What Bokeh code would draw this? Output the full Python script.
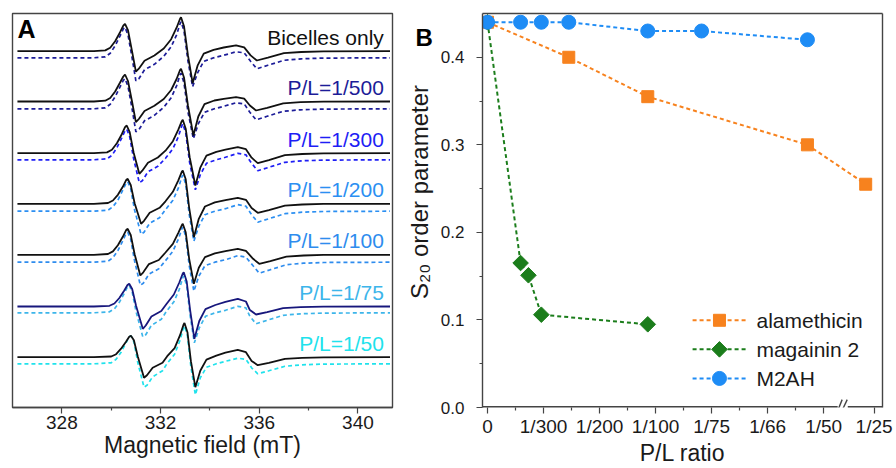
import numpy as np
from bokeh.plotting import figure
from bokeh.models import Range1d, FixedTicker, Label, PrintfTickFormatter, LinearAxis
from bokeh.layouts import row
from bokeh.core.properties import value
from bokeh.embed import file_html
from bokeh.resources import INLINE

FONT = "Liberation Sans"

# ---------------- Panel A data: EPR spectra (field in mT, amplitude a.u.) ----------------
sample_labels = ["Bicelles only", "P/L=1/500", "P/L=1/300", "P/L=1/200",
                 "P/L=1/100", "P/L=1/75", "P/L=1/50"]

field_bicelles = [326.2, 329.3, 329.76, 329.96, 330.16, 330.36, 330.49, 330.56, 330.68, 330.84, 331.00, 331.12,
                  331.35, 331.75, 332.13, 332.43, 332.65, 332.79, 332.83, 332.95, 333.11, 333.30, 333.50, 333.75,
                  334.15, 334.56, 335.06, 335.39, 335.65, 335.90, 336.35, 337.00, 337.70, 338.60, 341.3]
exp_bicelles = [0, 0, 0.8, 3.5, 10, 19, 25.5, 27.4, 21, 0.5, -20.5, -17.5, -9.5, -4.3, 2.7, 12, 23.5, 32.5, 34, 25,
                -4, -32, -14.5, -2.5, 1.4, 3.7, 5.8, 3.8, -4.2, -9.3, -6.5, -2, -0.8, -0.1, 0]
sim_bicelles = [0, 0, 1, 4.5, 12, 22, 29, 30.5, 23, 1, -23, -21, -12, -6.5, 1.5, 11, 23, 34, 36, 27,
                -3, -29, -15, -3.5, 0, 2.5, 6, 5, -3.5, -11, -7.5, -2.5, -1, -0.3, 0]

field_500 = [326.2, 329.3, 329.76, 329.96, 330.16, 330.36, 330.49, 330.56, 330.68, 330.84, 331.00, 331.12,
             331.35, 331.75, 332.13, 332.43, 332.65, 332.79, 332.83, 332.95, 333.11, 333.33, 333.53, 333.78,
             334.18, 334.56, 335.06, 335.39, 335.62, 335.87, 336.32, 336.97, 337.67, 338.60, 341.3]
exp_500 = [0, 0, 0.8, 3.5, 10, 19, 25, 27, 20.5, 0.5, -20.7, -17.5, -9.5, -4.3, 2.5, 11.5, 22.5, 31.5, 32.7, 24,
           -4, -34, -15, -2.7, 1, 2.6, 4.3, 2.8, -4, -9, -6.3, -1.8, -0.7, -0.1, 0]
sim_500 = [0, 0, 1, 4.5, 12, 22, 28.5, 30, 22.5, 1, -23, -21, -12, -6.5, 1.5, 11, 23, 34, 35.5, 26,
           -3, -30, -15, -3.5, 0, 2.5, 6, 5, -3.5, -11, -7.5, -2.5, -1, -0.3, 0]

field_300 = [326.2, 329.3, 329.83, 330.03, 330.23, 330.43, 330.56, 330.63, 330.75, 330.91, 331.14, 331.26,
             331.49, 331.89, 332.20, 332.50, 332.72, 332.86, 332.90, 333.02, 333.18, 333.41, 333.61, 333.86,
             334.26, 334.63, 335.13, 335.46, 335.69, 335.94, 336.39, 337.04, 337.74, 338.60, 341.3]
exp_300 = [0, 0, 0.8, 3.5, 10, 19, 26, 27.7, 21, 0.5, -20.6, -17.5, -9.5, -4.3, 2.5, 12, 23.5, 32, 33.4, 24.5,
           -4, -32.3, -14.5, -2.5, 1.4, 3.6, 6, 4, -4.5, -10, -7, -2, -0.8, -0.1, 0]
sim_300 = [0, 0, 1, 4.5, 12, 22, 29, 30.5, 23, 1, -23, -21, -12, -6.5, 1.5, 11, 23, 34, 36, 27,
           -3, -30, -15, -3.5, 0, 2.5, 6.5, 5, -3.5, -11, -7.5, -2.5, -1, -0.3, 0]

field_200 = [326.2, 329.3, 329.87, 330.07, 330.27, 330.47, 330.60, 330.67, 330.79, 330.95, 331.21, 331.33,
             331.56, 331.96, 332.20, 332.50, 332.72, 332.86, 332.90, 333.02, 333.16, 333.35, 333.55, 333.80,
             334.20, 334.63, 335.13, 335.46, 335.69, 335.94, 336.39, 337.04, 337.74, 338.60, 341.3]
exp_200 = [0, 0, 0.8, 3.3, 9, 17, 23.5, 25, 19, 0.5, -20, -17, -9, -4, 2.5, 12, 23.5, 32, 33.3, 24.5,
           -4, -33.4, -15, -2.7, 1.4, 3.6, 6, 4, -4.2, -9, -6.3, -1.8, -0.7, -0.1, 0]
sim_200 = [0, 0, 1, 4.5, 11, 21, 28, 29.5, 22.5, 1, -23, -21, -12, -6.5, 1.5, 11, 23, 34, 36, 27,
           -3, -30, -15, -3.5, 0, 2.5, 6.5, 5, -3.5, -11, -7.5, -2.5, -1, -0.3, 0]

field_100 = [326.2, 329.3, 329.87, 330.07, 330.27, 330.47, 330.60, 330.67, 330.79, 330.95, 331.18, 331.30,
             331.53, 331.93, 332.20, 332.50, 332.72, 332.86, 332.90, 333.02, 333.16, 333.35, 333.55, 333.80,
             334.20, 334.63, 335.13, 335.46, 335.75, 336.00, 336.45, 337.10, 337.80, 338.60, 341.3]
exp_100 = [0, 0, 0.8, 3.4, 9.5, 18, 24.5, 26, 20, 0.5, -20.7, -17.5, -9.3, -5.2, 2.3, 11, 22, 29.5, 31, 22.5,
           -4, -29, -13, -2.3, 1.4, 3.6, 6, 4, -4, -9, -6.3, -1.8, -0.7, -0.1, 0]
sim_100 = [0, 0, 1, 4.5, 11.5, 21.5, 28.5, 30, 23, 1, -23, -21, -12, -6.5, 1.5, 11, 23, 33, 35, 26,
           -3, -29, -14, -3.5, 0, 2.5, 6.5, 5, -3.5, -11, -7.5, -2.5, -1, -0.3, 0]

field_75 = [326.2, 329.3, 329.93, 330.13, 330.33, 330.53, 330.66, 330.73, 330.85, 331.01, 331.28, 331.40,
            331.63, 332.03, 332.24, 332.54, 332.76, 332.90, 332.94, 333.06, 333.20, 333.37, 333.57, 333.82,
            334.22, 334.63, 335.13, 335.46, 335.62, 335.87, 336.32, 336.97, 337.67, 338.60, 341.3]
exp_75 = [0, 0, 0.7, 3, 8.5, 16, 21.5, 22.7, 17.5, 0.5, -22.3, -19, -10, -4.5, 2.5, 12, 24, 33, 34.3, 25,
          -4, -32.3, -14.5, -2.6, 1.5, 4.6, 7.7, 5, -3.6, -8, -5.6, -1.6, -0.6, -0.1, 0]
sim_75 = [0, 0, 1, 4, 10.5, 19.5, 26, 27.5, 21, 1, -24, -22, -12.5, -6.5, 1.5, 11, 23.5, 35, 37, 27,
          -3, -30, -15, -3.5, 0, 2.5, 6.5, 5, -3.5, -11, -7.5, -2.5, -1, -0.3, 0]

field_50 = [326.2, 329.3, 330.00, 330.20, 330.40, 330.60, 330.73, 330.80, 330.92, 331.08, 331.33, 331.45,
            331.68, 332.08, 332.27, 332.57, 332.79, 332.93, 332.97, 333.09, 333.23, 333.41, 333.61, 333.86,
            334.26, 334.63, 335.13, 335.46, 335.69, 335.94, 336.39, 337.04, 337.74, 338.60, 341.3]
exp_50 = [0, 0, 0.7, 3, 8.5, 15.5, 20.5, 21.5, 17, 0.5, -20.5, -18, -10.5, -5.5, 1, 9, 22, 32.5, 34.3, 25,
          -4, -30, -13.5, -2.4, 1.5, 4.5, 7.4, 5, -3.7, -8, -5.6, -1.6, -0.6, -0.1, 0]
sim_50 = [0, 0, 1, 4.5, 11.5, 21, 27, 28, 22, 1, -23.4, -21.5, -13, -7, 0.5, 9.5, 23.5, 36, 38, 28,
          -3, -31, -14, -3.5, 0, 2.5, 5.6, 4.5, -4, -10, -7, -2.5, -1, -0.3, 0]

fields = [field_bicelles, field_500, field_300, field_200, field_100, field_75, field_50]
exp_spectra = [exp_bicelles, exp_500, exp_300, exp_200, exp_100, exp_75, exp_50]
sim_spectra = [sim_bicelles, sim_500, sim_300, sim_200, sim_100, sim_75, sim_50]

# vertical stacking offsets (a.u.)
exp_offset = [0, -50.3, -102.0, -152.6, -203.6, -255.3, -306.0]
sim_offset = [-6.6, -57.6, -108.6, -160.0, -211.0, -261.6, -312.6]

exp_colors = ["#111111", "#111111", "#111111", "#111111", "#111111", "#17177c", "#111111"]
sim_colors = ["#1c1c98", "#1c1c98", "#1e1ef5", "#2b8ff2", "#2e8cee", "#3cb5ea", "#20e2ec"]
label_colors = ["#111111", "#1c1c98", "#1e1ef5", "#2b8ff2", "#2e8cee", "#3cb5ea", "#20e2ec"]

# ---------------- Panel B data ----------------
pl_tick_pos = [0, 1, 2, 3, 4, 5, 6, 6.9]
pl_tick_labels = ["0", "1/300", "1/200", "1/100", "1/75", "1/66", "1/50", "1/25"]

series_names = ["alamethicin", "magainin 2", "M2AH"]
alam_x = [0, 1.45, 2.86, 5.71, 6.75]
alam_y = [0.44, 0.40, 0.355, 0.30, 0.255]
mag_x = [0, 0.59, 0.73, 0.96, 2.86]
mag_y = [0.44, 0.165, 0.151, 0.106, 0.095]
m2ah_x = [0, 0.59, 0.96, 1.45, 2.86, 3.82, 5.71]
m2ah_y = [0.44, 0.44, 0.44, 0.44, 0.43, 0.43, 0.42]

ORANGE = "#f7821e"
GREEN = "#1b7d1b"
BLUE = "#1e8cf5"
FRAME = "#444444"
TXT = "#1a1a1a"
H = 468


def style_axis(ax, tick_size="19px", label_size="23px", standoff=2):
    ax.axis_line_color = FRAME
    ax.axis_line_width = 1.4
    ax.major_tick_line_color = FRAME
    ax.minor_tick_line_color = FRAME
    ax.major_tick_line_width = 1.2
    ax.minor_tick_line_width = 1.2
    ax.major_tick_in = 0
    ax.major_tick_out = 6
    ax.minor_tick_in = 0
    ax.minor_tick_out = 3
    ax.major_label_text_font = FONT
    ax.major_label_text_font_size = tick_size
    ax.major_label_text_color = TXT
    ax.axis_label_text_font = FONT
    ax.axis_label_text_font_size = label_size
    ax.axis_label_text_font_style = "normal"
    ax.axis_label_text_color = TXT
    ax.major_label_standoff = standoff
    ax.axis_label_standoff = 0


# ---------------- Panel A ----------------
pA = figure(width=396, height=H, x_range=Range1d(326.0, 341.4), y_range=Range1d(-356.3, 37.7),
            output_backend="svg", toolbar_location=None,
            min_border_left=12, min_border_right=4, min_border_top=13, min_border_bottom=0)
pA.yaxis.visible = False
pA.grid.visible = False
pA.outline_line_color = FRAME
pA.outline_line_width = 1.4
pA.xaxis.ticker = FixedTicker(ticks=[328, 332, 336, 340], minor_ticks=[330, 334, 338])
pA.xaxis.axis_label = "Magnetic field (mT)"
style_axis(pA.xaxis[0])

for i in range(len(fields)):
    fx = np.array(fields[i])
    pA.line(fx, np.array(sim_spectra[i]) + sim_offset[i], line_color=sim_colors[i],
            line_width=1.7, line_dash="4 3")
    pA.line(fx, np.array(exp_spectra[i]) + exp_offset[i], line_color=exp_colors[i], line_width=1.8)

pA.text(x=[341.05] * len(sample_labels), y=[o + 14 for o in exp_offset], text=sample_labels,
        text_align="right", text_baseline="middle", text_font=value(FONT),
        text_font_size="21px", text_color=label_colors)

pA.add_layout(Label(x=326.2, y=22.5, text="A", text_font=FONT, text_font_size="25px",
                    text_font_style="bold", text_baseline="middle", text_color="#000000"))

# ---------------- middle strip: panel letter B and y-axis title of panel B ----------------
pM = figure(width=40, height=H, x_range=Range1d(0, 40), y_range=Range1d(0, H),
            output_backend="svg", toolbar_location=None, x_axis_location=None, y_axis_location=None,
            min_border_left=0, min_border_right=0, min_border_top=0, min_border_bottom=0)
pM.grid.visible = False
pM.outline_line_color = None
pM.text(x=[19], y=[H - 28], text=["B"], text_align="left", text_baseline="middle",
        text_font=value(FONT), text_font_size="24px", text_font_style="bold", text_color="#000000")
pM.text(x=[23], y=[H - 212], text=["S\u2082\u2080 order parameter"], angle=np.pi / 2,
        text_align="center", text_baseline="middle", text_font=value(FONT),
        text_font_size="24px", text_color=TXT)

# ---------------- Panel B ----------------
pB = figure(width=460, height=H, x_range=Range1d(-0.09, 7.05), y_range=Range1d(0, 0.45),
            output_backend="svg", toolbar_location=None,
            min_border_left=46, min_border_right=14, min_border_top=13, min_border_bottom=0)
pB.grid.visible = False
pB.outline_line_color = None
pB.xaxis.ticker = FixedTicker(ticks=pl_tick_pos, minor_ticks=[0.5, 1.5, 2.5, 3.5, 4.5, 5.5])
pB.xaxis.major_label_overrides = {t: l for t, l in zip(pl_tick_pos, pl_tick_labels)}
pB.yaxis.ticker = FixedTicker(ticks=[0, 0.1, 0.2, 0.3, 0.4], minor_ticks=[0.05, 0.15, 0.25, 0.35])
pB.yaxis.formatter = PrintfTickFormatter(format="%.1f")
pB.xaxis.axis_label = "P/L ratio"
style_axis(pB.xaxis[0])
style_axis(pB.yaxis[0], tick_size="17px", standoff=12)
pB.xaxis.axis_line_color = None

for loc in ("above", "right"):
    ax = LinearAxis(ticker=FixedTicker(ticks=[]), axis_line_color=FRAME, axis_line_width=1.4,
                    major_label_text_font_size="0px", major_tick_line_color=None,
                    minor_tick_line_color=None)
    pB.add_layout(ax, loc)

# bottom frame line with the axis break
pB.segment(x0=[-0.09, 6.43], y0=[0, 0], x1=[6.25, 7.05], y1=[0, 0], line_color=FRAME, line_width=2.8)
pB.segment(x0=[6.21, 6.28], y0=[-0.01, -0.01], x1=[6.33, 6.42], y1=[0.009, 0.009],
           line_color=FRAME, line_width=1.4)

pB.line(alam_x, alam_y, line_color=ORANGE, line_width=2, line_dash="4 3")
pB.scatter(alam_x, alam_y, marker="square", size=12, color=ORANGE)
pB.line(mag_x, mag_y, line_color=GREEN, line_width=2, line_dash="4 3")
pB.scatter(mag_x, mag_y, marker="square", angle=np.pi / 4, size=11, color=GREEN)
pB.line(m2ah_x, m2ah_y, line_color=BLUE, line_width=2, line_dash="4 3")
pB.scatter(m2ah_x, m2ah_y, marker="circle", size=14, color=BLUE)

# legend (drawn in the lower right of the frame)
leg_y = [0.0996, 0.0664, 0.0332]
leg_colors = [ORANGE, GREEN, BLUE]
pB.segment(x0=[3.66] * 3, y0=leg_y, x1=[4.61] * 3, y1=leg_y, line_color=leg_colors,
           line_width=2, line_dash="4 3")
pB.scatter([4.14], [leg_y[0]], marker="square", size=12, color=ORANGE)
pB.scatter([4.14], [leg_y[1]], marker="square", angle=np.pi / 4, size=11, color=GREEN)
pB.scatter([4.14], [leg_y[2]], marker="circle", size=14, color=BLUE)
pB.text(x=[4.80] * 3, y=leg_y, text=series_names, text_align="left", text_baseline="middle",
        text_font=value(FONT), text_font_size="21px", text_color=TXT)

layout = row(pA, pM, pB)
open("out.html", "w").write(file_html(layout, INLINE))
